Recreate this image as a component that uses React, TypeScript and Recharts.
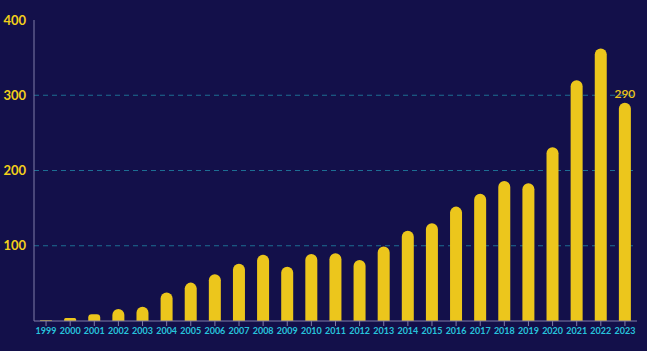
import React from 'react';
import { BarChart, Bar, XAxis, YAxis, CartesianGrid, LabelList } from 'recharts';

const years = ['1999','2000','2001','2002','2003','2004','2005','2006','2007','2008','2009','2010','2011','2012','2013','2014','2015','2016','2017','2018','2019','2020','2021','2022','2023'];
const counts = [1, 4, 9, 16, 19, 38, 51, 62, 76, 88, 72, 89, 90, 81, 99, 120, 130, 152, 169, 186, 183, 231, 320, 362, 290];
const yTicks = [0, 100, 200, 300, 400];
const gridValues = [100, 200, 300];

const data = years.map((y, i) => ({ year: y, value: counts[i] }));

const BG = '#13104a';
const YELLOW = '#ecc61c';
const TICK_YELLOW = '#f2cf1a';
const CYAN = '#27c3dc';

const LastLabel = (props: any) => {
  const { x, y, width, value, index } = props;
  if (index !== data.length - 1) return null;
  return (
    <text x={x + width / 2} y={y - 5} fill={YELLOW} fontSize={12} fontWeight={600} textAnchor="middle" fontFamily="Lato, sans-serif">
      {value}
    </text>
  );
};

export default function App() {
  return (
    <div style={{ position: 'absolute', left: 0, top: 0, width: 647, height: 351, background: BG }}>
      <BarChart width={647} height={351} data={data} margin={{ top: 20, right: 10, bottom: 0, left: 0 }} barCategoryGap={0}>
        <CartesianGrid horizontal vertical={false} horizontalValues={gridValues} stroke="#1d6e93" strokeDasharray="5 4" />
        <XAxis
          dataKey="year"
          interval={0}
          stroke="#807da8"
          tickLine={{ stroke: '#807da8' }}
          tickSize={5}
          height={30}
          tick={{ fill: CYAN, fontSize: 9, fontWeight: 700, fontFamily: 'Lato, sans-serif' }}
        />
        <YAxis
          width={34}
          domain={[0, 400]}
          ticks={yTicks}
          stroke="#807da8"
          tickLine={false}
          tickFormatter={(v: number) => (v === 0 ? '' : String(v))}
          tick={{ fill: TICK_YELLOW, fontSize: 13, fontWeight: 700, fontFamily: 'Lato, sans-serif' }}
        />
        <Bar dataKey="value" fill={YELLOW} barSize={12} radius={[6, 6, 0, 0]} isAnimationActive={false}>
          <LabelList dataKey="value" content={<LastLabel />} />
        </Bar>
      </BarChart>
    </div>
  );
}
